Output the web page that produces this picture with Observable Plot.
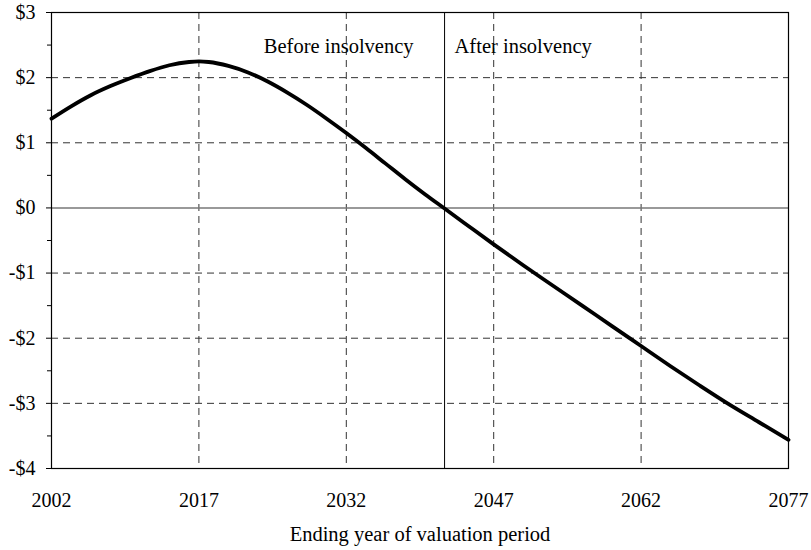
<!DOCTYPE html>
<html>
<head>
<meta charset="utf-8">
<script src="https://cdn.jsdelivr.net/npm/d3@7"></script>
<script src="https://cdn.jsdelivr.net/npm/@observablehq/plot@0.6"></script>
<style>
  html, body { margin: 0; padding: 0; background: #fff; }
  svg { display: block; }
</style>
</head>
<body>
<div id="chart"></div>
<script>
// Data (trillions of dollars)
const years  = [2002, 2004, 2006, 2008, 2010, 2012, 2014, 2016, 2017, 2018, 2020, 2022, 2024, 2026, 2028, 2030, 2032, 2034, 2036, 2038, 2040, 2042, 2044, 2047, 2050, 2053, 2056, 2059, 2062, 2065, 2068, 2071, 2074, 2077];
const values = [1.37, 1.56, 1.73, 1.87, 1.99, 2.10, 2.19, 2.24, 2.25, 2.24, 2.18, 2.08, 1.94, 1.77, 1.58, 1.37, 1.15, 0.92, 0.68, 0.44, 0.21, -0.01, -0.23, -0.56, -0.88, -1.19, -1.50, -1.81, -2.12, -2.43, -2.73, -3.02, -3.29, -3.56];

const xTicks = [2002, 2017, 2032, 2047, 2062, 2077];
const xGrid = [2017, 2032, 2047, 2062];
const yTicks = [-4, -3, -2, -1, 0, 1, 2, 3];
const yMinorTicks = [-3.5, -2.5, -1.5, -0.5, 0.5, 1.5, 2.5];
const yGrid = [-3, -2, -1, 1, 2];
const insolvencyYear = 2042;
const labelBefore = "Before insolvency";
const labelAfter = "After insolvency";
const xTitle = "Ending year of valuation period";

const data = years.map((y, i) => ({year: y, value: values[i]}));
const fmt = d => (d < 0 ? "-" : "") + "$" + Math.abs(d);

const chart = Plot.plot({
  width: 811,
  height: 550,
  marginTop: 12,
  marginBottom: 82,
  marginLeft: 51,
  marginRight: 23,
  style: {fontFamily: "'Liberation Serif', 'Times New Roman', serif", fontSize: "20px", color: "#000", background: "#fff"},
  x: {domain: [2002, 2077]},
  y: {domain: [-4, 3]},
  marks: [
    Plot.gridY(yGrid, {stroke: "#333", strokeOpacity: 1, strokeDasharray: "7,5"}),
    Plot.gridX(xGrid, {stroke: "#333", strokeOpacity: 1, strokeDasharray: "7,5"}),
    Plot.ruleY([0], {stroke: "#777", strokeWidth: 1.5}),
    Plot.ruleX([insolvencyYear], {stroke: "#000", strokeWidth: 1}),
    Plot.frame({stroke: "#000", strokeWidth: 1.2}),
    Plot.axisY(yTicks, {tickSize: 5, tickPadding: 11, tickFormat: fmt, label: null, fontSize: 20}),
    Plot.axisY(yMinorTicks, {tickSize: 4, tickFormat: () => "", label: null}),
    Plot.axisX(xTicks, {tickSize: 0, tickPadding: 24, tickFormat: d => String(d), label: null, fontSize: 20}),
    Plot.line(data, {x: "year", y: "value", stroke: "#000", strokeWidth: 3.8, curve: "monotone-x"}),
    Plot.text([labelBefore], {x: () => insolvencyYear, frameAnchor: "top", dy: 40, dx: -31, textAnchor: "end", lineAnchor: "bottom", fontSize: 20.5}),
    Plot.text([labelAfter], {x: () => insolvencyYear, frameAnchor: "top", dy: 40, dx: 10, textAnchor: "start", lineAnchor: "bottom", fontSize: 20.5}),
    Plot.text([xTitle], {frameAnchor: "bottom", dy: 72, lineAnchor: "bottom", fontSize: 20.5})
  ]
});
document.getElementById("chart").appendChild(chart);
</script>
</body>
</html>
